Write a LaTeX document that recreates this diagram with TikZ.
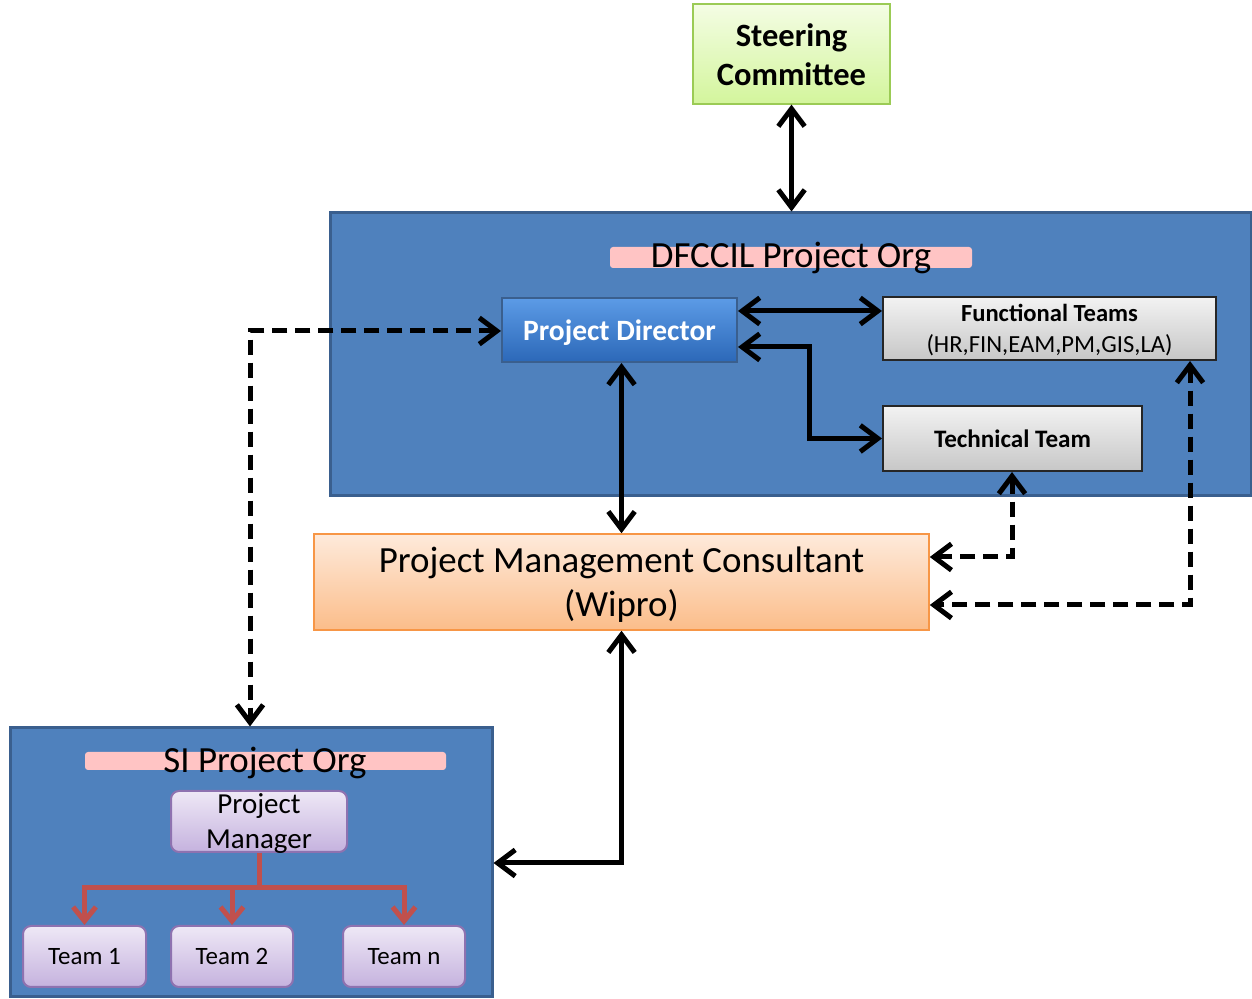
\documentclass[tikz,border=0pt]{standalone}
\usepackage{fontspec}
\setmainfont{Carlito}
\usetikzlibrary{arrows.meta}
\def\pxu{0.02cm}
\newcommand\mlines[1]{\begin{tabular}[t]{@{}c@{}}#1\end{tabular}}
\definecolor{orgblue}{HTML}{4F81BD}
\definecolor{orgborder}{HTML}{3A5F8E}
\definecolor{bandpink}{HTML}{FFC4C4}
\definecolor{redline}{HTML}{C0504D}
\definecolor{pdtop}{HTML}{5C9BE6}
\definecolor{pdbot}{HTML}{2C68B8}
\definecolor{lavtop}{HTML}{EEE8F6}
\definecolor{lavbot}{HTML}{C5B2DE}
\definecolor{lavdraw}{HTML}{8E72B0}
\definecolor{pmctop}{HTML}{FEEADB}
\definecolor{pmcbot}{HTML}{FBBD8A}
\definecolor{pmcdraw}{HTML}{F79646}
\definecolor{sctop}{HTML}{F4FDE4}
\definecolor{scbot}{HTML}{D3F59C}
\definecolor{scdraw}{HTML}{9BCB55}
\tikzset{
  px/.style={x=\pxu,y=-\pxu},
  orgbox/.style={draw=orgborder,line width=3*\pxu,fill=orgblue,inner sep=0pt},
  band/.style={fill=bandpink,rounded corners=3*\pxu,inner sep=0pt},
  bandtext/.style={inner sep=0pt,font=\fontsize{21pt}{24pt}\selectfont},
  greenbox/.style={draw=scdraw,line width=1.2*\pxu,top color=sctop,bottom color=scbot,inner sep=0pt,font=\bfseries\fontsize{18.5pt}{22pt}\selectfont},
  pdbox/.style={draw=orgborder,line width=2*\pxu,top color=pdtop,bottom color=pdbot,inner sep=0pt,text=white,font=\bfseries\fontsize{16.8pt}{19pt}\selectfont},
  graybox/.style={draw=black!85,line width=2*\pxu,top color=white!95!black,bottom color=black!22,inner sep=0pt,font=\fontsize{14pt}{17.6pt}\selectfont},
  pmcbox/.style={draw=pmcdraw,line width=1.5*\pxu,top color=pmctop,bottom color=pmcbot,inner sep=0pt,font=\fontsize{21pt}{25pt}\selectfont},
  lavbox/.style={draw=lavdraw,line width=2*\pxu,rounded corners=8*\pxu,top color=lavtop,bottom color=lavbot,inner sep=0pt},
  conn/.style={line width=5*\pxu,{Straight Barb[length=10pt,width=15pt]}-{Straight Barb[length=10pt,width=15pt]}},
  dconn/.style={conn,dash pattern=on 15*\pxu off 8*\pxu},
  redconn/.style={draw=redline,line width=5*\pxu,-{Straight Barb[length=8pt,width=13pt]}},
}
\begin{document}
\begin{tikzpicture}[px]
\useasboundingbox (0,0) rectangle (1252,999);
% Steering Committee
\node[greenbox,minimum width=197*\pxu,minimum height=100*\pxu,text height=0cm,text depth=0.28cm] (sc) at (791.5,54) {\mlines{Steering\\Committee}};
% DFCCIL org
\node[orgbox,minimum width=921*\pxu,minimum height=283*\pxu] (dfo) at (790.5,354.5) {};
\node[band,minimum width=362*\pxu,minimum height=21*\pxu] (dfb) at (791,257.5) {};
\node[bandtext,text height=0.42cm,text depth=0cm] (dft) at (791,257.5) {DFCCIL Project Org};
\node[pdbox,minimum width=235*\pxu,minimum height=64*\pxu,text height=0.42cm,text depth=0cm] (pd) at (619.5,330) {Project Director};
\node[graybox,minimum width=333*\pxu,minimum height=63*\pxu,text height=0cm,text depth=0.27cm] (ft) at (1049.5,328.5) {\mlines{\textbf{Functional Teams}\\(HR,FIN,EAM,PM,GIS,LA)}};
\node[graybox,minimum width=259*\pxu,minimum height=65*\pxu,text height=0.35cm,text depth=0cm,font=\bfseries\fontsize{14.3pt}{17pt}\selectfont] (tt) at (1012.5,438.5) {Technical Team};
% PMC
\node[pmcbox,minimum width=615*\pxu,minimum height=96*\pxu,text height=0cm,text depth=0.36cm] (pmc) at (621.5,582) {\mlines{Project Management Consultant\\(Wipro)}};
% SI org
\node[orgbox,minimum width=482*\pxu,minimum height=269*\pxu] (si) at (251,862.5) {};
\node[band,minimum width=361*\pxu,minimum height=18*\pxu] (sib) at (265.5,761) {};
\node[bandtext,text height=0.45cm,text depth=0cm] (sit) at (265,761) {SI Project Org};
\node[lavbox,minimum width=176*\pxu,minimum height=61*\pxu,text height=0cm,text depth=0.30cm,font=\fontsize{16.5pt}{19.4pt}\selectfont] (pm) at (259,821.5) {\mlines{Project\\Manager}};
\node[lavbox,minimum width=123*\pxu,minimum height=61*\pxu,text height=0.34cm,text depth=0cm,font=\fontsize{14.2pt}{16pt}\selectfont] (t1) at (84.5,956.5) {Team 1};
\node[lavbox,minimum width=122*\pxu,minimum height=61*\pxu,text height=0.34cm,text depth=0cm,font=\fontsize{14.2pt}{16pt}\selectfont] (t2) at (232,956.5) {Team 2};
\node[lavbox,minimum width=122*\pxu,minimum height=61*\pxu,text height=0.34cm,text depth=0cm,font=\fontsize{14.2pt}{16pt}\selectfont] (tn) at (404,956.5) {Team n};
% red tree
\coordinate (rj) at (259,888);
\draw[draw=redline,line width=5*\pxu] (pm.south) -- (rj);
\draw[redconn] (rj) -| (t1.north);
\draw[redconn] (rj) -| (t2.north);
\draw[redconn] (rj) -| (tn.north);
% black connectors
\draw[conn] (sc.south) -- (dfo.north -| sc.south);
\draw[conn] (pd.east |- 0,311) -- (ft.west |- 0,311);
\coordinate (c1) at (809,347);
\draw[conn] (pd.east |- c1) -- (c1) |- (tt.west);
\draw[conn] (pd.south -| pmc.north) -- (pmc.north);
\coordinate (c2) at (621.5,863);
\draw[conn] (pmc.south) -- (c2) -- (si.east |- c2);
% dashed connectors
\coordinate (d1) at (250,331);
\draw[dconn] (pd.west |- d1) -- (d1) -- (si.north -| d1);
\coordinate (d2) at (1012,557);
\draw[dconn] (tt.south -| d2) -- (d2) -- (pmc.east |- d2);
\coordinate (d3) at (1190,605);
\draw[dconn] (ft.south -| d3) -- (d3) -- (pmc.east |- d3);
\end{tikzpicture}
\end{document}
